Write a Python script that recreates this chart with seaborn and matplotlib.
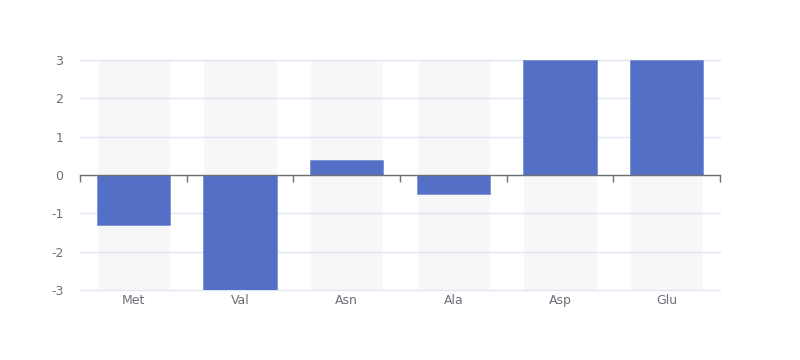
import matplotlib
matplotlib.use("Agg")
import matplotlib.pyplot as plt
import seaborn as sns
import pandas as pd
import numpy as np

# chart data
categories = ["Met", "Val", "Asn", "Ala", "Asp", "Glu"]
values = [-1.3, -3.0, 0.4, -0.5, 3.0, 3.0]
y_ticks = [-3, -2, -1, 0, 1, 2, 3]

BAR_COLOR = "#5470c6"
SHADOW_COLOR = "#f7f7f7"
GRID_COLOR = "#e0e6f1"
AXIS_COLOR = "#6e7079"

sns.set_theme(style="white")
plt.rcParams["font.family"] = ["DejaVu Sans"]
plt.rcParams["axes.unicode_minus"] = False
plt.rcParams["axes.edgecolor"] = AXIS_COLOR

df = pd.DataFrame({"category": categories, "value": values})

fig = plt.figure(figsize=(8, 3.6), dpi=100)
ax = fig.add_axes([0.1, 0.1944, 0.8, 0.6389])

ymin, ymax = y_ticks[0], y_ticks[-1]
x = np.arange(len(categories))

# background shadow bars spanning the full value range
ax.bar(x, ymax - ymin, bottom=ymin, width=0.69, color=SHADOW_COLOR, zorder=0.2)

sns.barplot(data=df, x="category", y="value", color=BAR_COLOR, width=0.69,
            saturation=1, edgecolor="#7a90d6", linewidth=0.6, ax=ax, zorder=3)

ax.set_ylim(ymin, ymax)
ax.set_xlim(-0.5, len(categories) - 0.5)
ax.set_yticks(y_ticks)
ax.set_axisbelow(True)
ax.yaxis.grid(True, color=GRID_COLOR, linewidth=1)
for line in ax.get_ygridlines():
    line.set_clip_on(False)
for s in ax.spines.values():
    s.set_visible(False)

ax.tick_params(axis="y", length=0, pad=12, labelsize=9, labelcolor=AXIS_COLOR)
ax.tick_params(axis="x", length=0, pad=3, labelsize=9, labelcolor=AXIS_COLOR)
ax.set_xlabel("")
ax.set_ylabel("")

# category axis sits on the zero line
zero_pos = (0 - ymin) / (ymax - ymin)
sec = ax.secondary_xaxis(zero_pos)
sec.set_xticks(np.arange(len(categories) + 1) - 0.5)
sec.set_xticklabels([])
sec.tick_params(axis="x", direction="out", length=5, width=1, color=AXIS_COLOR,
                bottom=True, top=False)
for s in sec.spines.values():
    s.set_color(AXIS_COLOR)
    s.set_linewidth(1)
sec.set_zorder(5)

fig.savefig("out.png", dpi=100)
plt.close(fig)
